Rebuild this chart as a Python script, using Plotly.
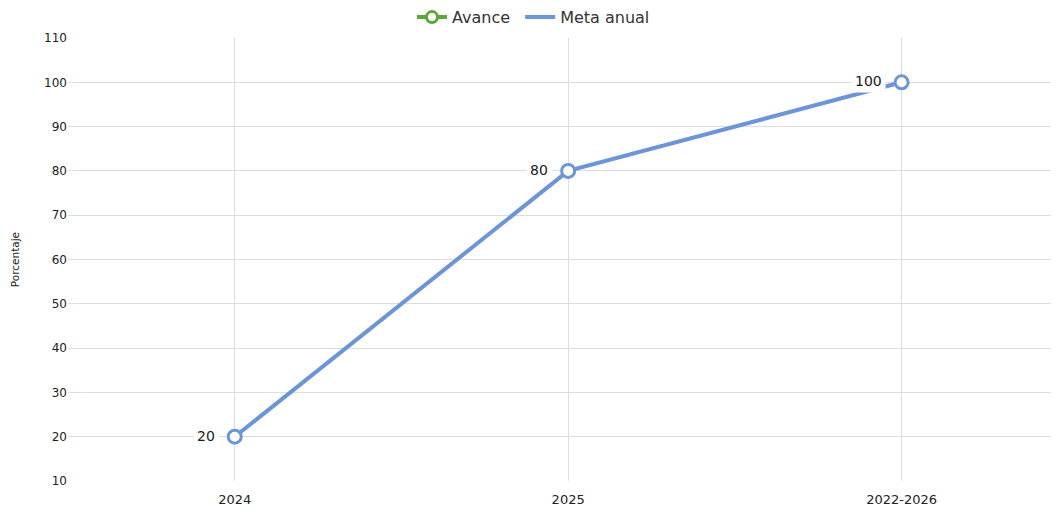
import plotly.graph_objects as go

# Data
years = ["2024", "2025", "2022-2026"]
meta_anual = [20, 80, 100]
avance = [None, None, None]

line_color = "#6a95d8"
green = "#5aa83c"
font_family = "DejaVu Sans"

fig = go.Figure()

fig.add_trace(go.Scatter(
    x=years, y=avance, name="Avance\u00a0", mode="lines+markers",
    line=dict(color=green, width=4),
    marker=dict(symbol="circle", size=11, color="white", line=dict(color=green, width=3)),
))

fig.add_trace(go.Scatter(
    x=years, y=meta_anual, name="Meta anual", mode="lines",
    line=dict(color=line_color, width=4),
))

# point markers, not shown in the legend
fig.add_trace(go.Scatter(
    x=years, y=meta_anual, mode="markers", showlegend=False, hoverinfo="skip",
    marker=dict(symbol="circle", size=13, color="white", line=dict(color=line_color, width=3)),
))

# value labels with a white box, left of each point
for i, v in enumerate(meta_anual):
    fig.add_annotation(
        x=i, y=v, text=str(v), showarrow=False,
        xanchor="right", xshift=-16, yshift=1,
        font=dict(size=14, color="#1a1a1a", family=font_family),
        bgcolor="white", borderpad=3,
    )

# y axis title placed by hand
fig.add_annotation(
    xref="paper", yref="paper", x=-0.054, y=0.5, text="Porcentaje",
    textangle=-90, showarrow=False, xanchor="center", yanchor="middle",
    font=dict(size=10.5, color="#222222", family=font_family),
)

# the page body has an 8px margin, so the figure is 8px smaller than the window
fig.update_layout(
    width=1051, height=502,
    margin=dict(l=60, r=4, t=30, b=29, autoexpand=False),
    plot_bgcolor="white", paper_bgcolor="white",
    font=dict(family=font_family, color="#222222"),
    showlegend=True,
    legend=dict(orientation="h", xref="container", x=0.5, xanchor="center",
                y=1.047, yanchor="middle",
                font=dict(size=16, color="#333333"), itemwidth=30),
)

fig.update_xaxes(
    type="category", range=[-0.5, 2.46],
    showgrid=True, gridcolor="#dddddd", gridwidth=1,
    tickfont=dict(size=13, color="#222222"), ticks="", showline=False,
    ticklabelstandoff=9, automargin=False,
)
fig.update_yaxes(
    range=[10, 110], dtick=10, tick0=10,
    showgrid=True, gridcolor="#dddddd", gridwidth=1,
    zeroline=False, ticks="", automargin=False,
    tickfont=dict(size=12, color="#222222"),
)

fig.write_html("out.html")
